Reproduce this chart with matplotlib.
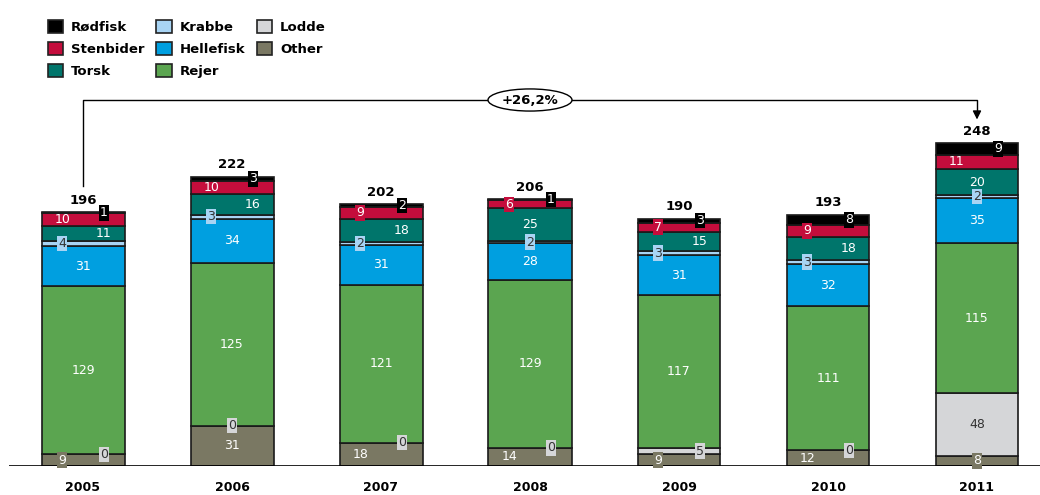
import matplotlib
matplotlib.use("Agg")
import matplotlib.pyplot as plt
from matplotlib.patches import Patch

plt.rcParams['font.family'] = ['DejaVu Sans']

years = ["2005", "2006", "2007", "2008", "2009", "2010", "2011"]
totals = [196, 222, 202, 206, 190, 193, 248]
# stacked from bottom to top
other = [9, 31, 18, 14, 9, 12, 8]
lodde = [0, 0, 0, 0, 5, 0, 48]
rejer = [129, 125, 121, 129, 117, 111, 115]
hellefisk = [31, 34, 31, 28, 31, 32, 35]
krabbe = [4, 3, 2, 2, 3, 3, 2]
torsk = [11, 16, 18, 25, 15, 18, 20]
stenbider = [10, 10, 9, 6, 7, 9, 11]
rodfisk = [1, 3, 2, 1, 3, 8, 9]
growth_label = "+26,2%"

series = [
    ("Other", other, "#7A7863", "white"),
    ("Lodde", lodde, "#D5D6D8", "#333333"),
    ("Rejer", rejer, "#5BA550", "white"),
    ("Hellefisk", hellefisk, "#009FE0", "white"),
    ("Krabbe", krabbe, "#A8D4F4", "#333333"),
    ("Torsk", torsk, "#00756B", "white"),
    ("Stenbider", stenbider, "#C40D3C", "white"),
    ("Rødfisk", rodfisk, "#000000", "white"),
]

off = 0.14
default_off = {"Other": -off, "Lodde": off, "Rejer": 0, "Hellefisk": 0,
               "Krabbe": -off, "Torsk": off, "Stenbider": -off, "Rødfisk": off}
override = {("Lodde", 1): 0, ("Other", 1): 0,
            ("Torsk", 3): 0, ("Krabbe", 3): 0,
            ("Torsk", 6): 0, ("Krabbe", 6): 0, ("Lodde", 6): 0, ("Other", 6): 0}

W, H = 1040, 495
fig = plt.figure(figsize=(W / 100, H / 100), dpi=100)
px_per_unit = 1.302
base_px = 466
spacing_px = 149
c0_px = 83
ax = fig.add_axes([0, (H - base_px) / H, 1, base_px / H])
ax.set_ylim(0, base_px / px_per_unit)
ax.set_xlim(-c0_px / spacing_px, (W - c0_px) / spacing_px)
for s in ax.spines.values():
    s.set_visible(False)
ax.set_yticks([])

x = list(range(len(years)))
width = 83 / spacing_px
bottom = [0] * len(years)
for name, vals, col, tcol in series:
    ax.bar(x, vals, width, bottom=bottom, color=col, edgecolor="#1a1a1a",
           linewidth=1.2, zorder=2)
    for i, v in enumerate(vals):
        xo = override.get((name, i), default_off[name])
        yc = bottom[i] + v / 2
        kw = dict(ha="center", va="center", fontsize=9, color=tcol, zorder=5)
        if v <= 9:
            kw["bbox"] = dict(boxstyle="square,pad=0.1", fc=col, ec="none")
        ax.text(i + xo, yc, str(v), **kw)
    bottom = [b + v for b, v in zip(bottom, vals)]

for i, t in enumerate(totals):
    ax.annotate(str(t), (i, bottom[i]), xytext=(0, 4), textcoords="offset points",
                ha="center", va="bottom", fontsize=9.5, fontweight="bold", color="black")

# baseline
ax.hlines(0, (9 - c0_px) / spacing_px, (W - c0_px) / spacing_px, color="black", lw=1.2, zorder=3)

# growth bracket
y_top = (base_px - 100) / px_per_unit
y_start = totals[0] + 19
y_end = totals[-1] + 16
ax.plot([0, 0, 6, 6], [y_start, y_top, y_top, y_end + 6], color="black", lw=1, zorder=3,
        clip_on=False)
ax.annotate("", xy=(6, y_end), xytext=(6, y_end + 8),
            arrowprops=dict(arrowstyle="-|>,head_width=0.25,head_length=0.5", color="black", lw=1))
ax.text(3, y_top, growth_label, ha="center", va="center", fontsize=9.5, fontweight="bold",
        zorder=6, bbox=dict(boxstyle="ellipse,pad=0.1", fc="white", ec="black", lw=1))

ax.set_xticks(x)
ax.set_xticklabels(years, fontsize=9, fontweight="bold")
ax.tick_params(axis="x", length=0, pad=11)

# legend
handles = [Patch(fc=c, ec="#222222", lw=1.2, label=n) for n, _, c, _ in
           [series[7], series[6], series[5], series[4], series[3], series[2], series[1], series[0]]]
leg = fig.legend(handles=handles, ncol=3, loc="upper left", bbox_to_anchor=(36 / W, 1 - 8 / H),
                 frameon=False, prop=dict(size=9.5, weight="bold"), handlelength=1.15,
                 handleheight=1.15, handletextpad=0.6, columnspacing=0.9, labelspacing=0.6)

fig.savefig("out.png", dpi=100)
